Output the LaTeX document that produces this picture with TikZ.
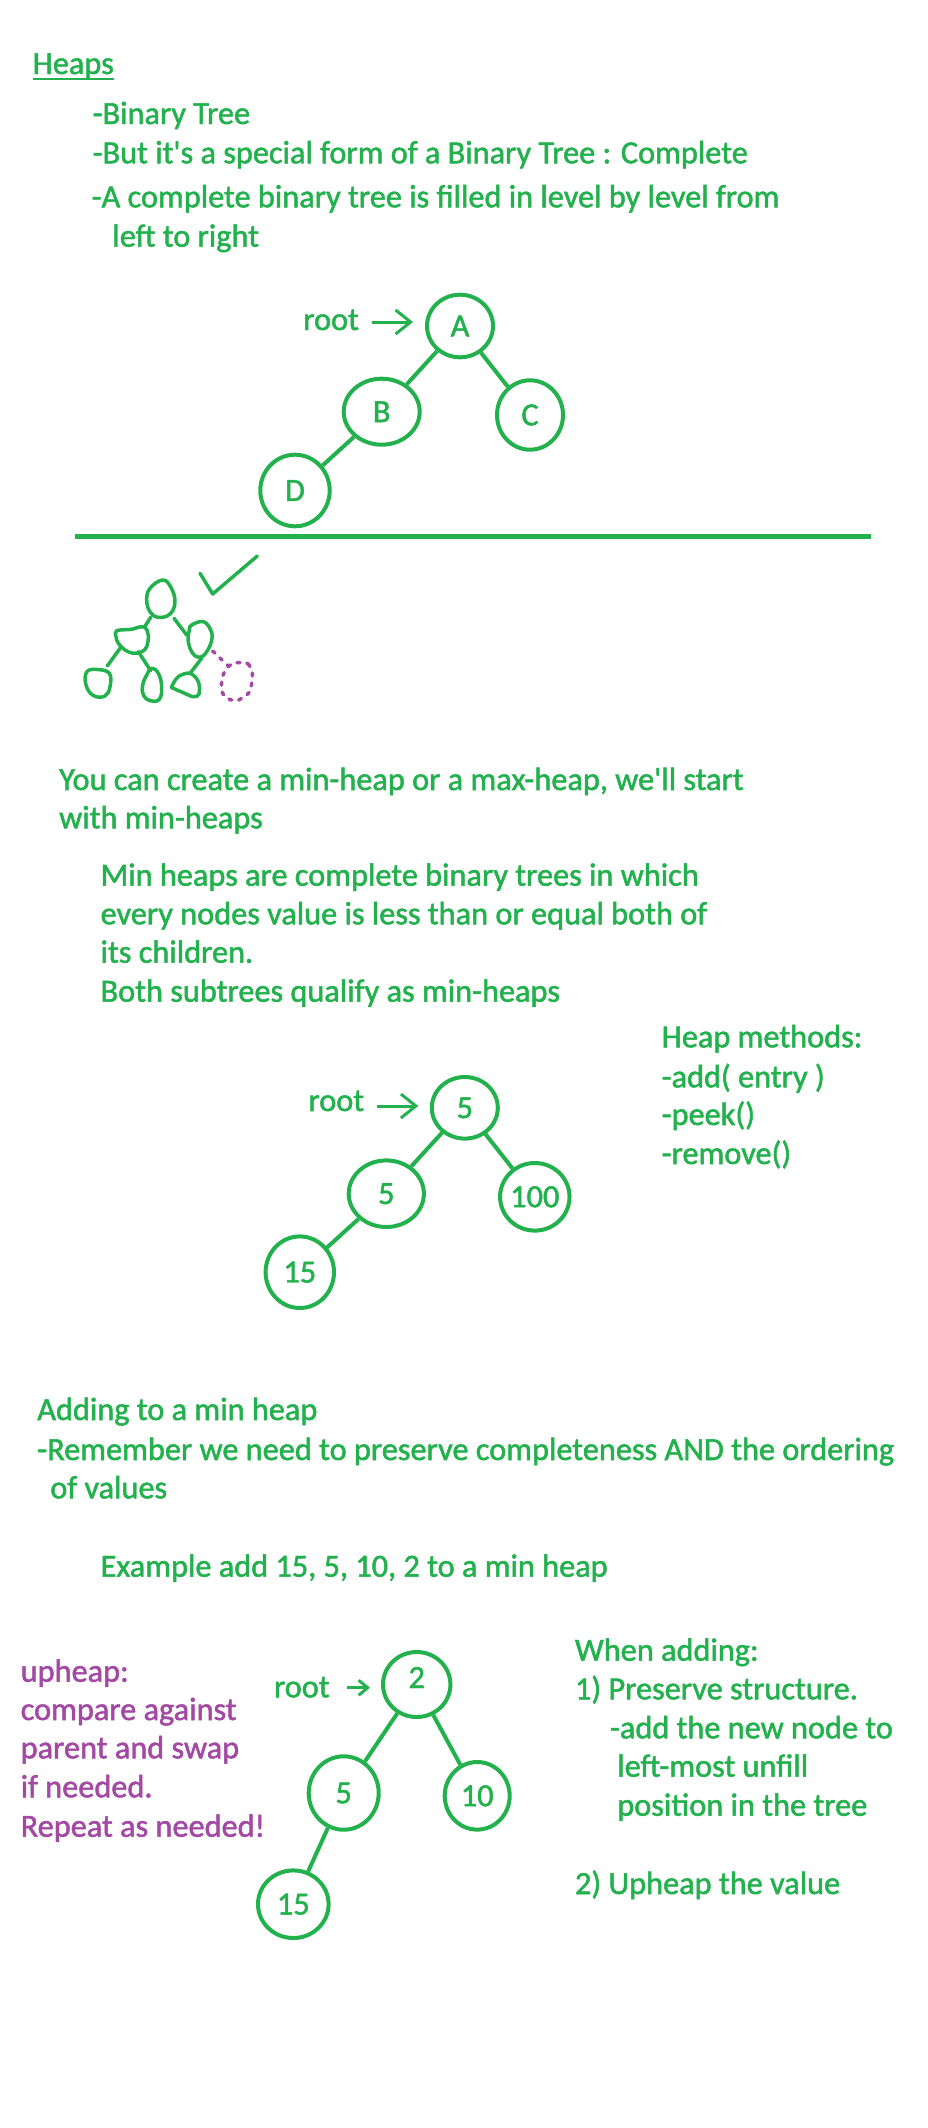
\documentclass[tikz,border=0pt]{standalone}
\usepackage{fontspec}
\setmainfont{Carlito}[Ligatures=TeXOff,FakeBold=1.5]
\usetikzlibrary{arrows.meta,shapes.geometric}
\definecolor{pg}{HTML}{22B14C}
\definecolor{pp}{HTML}{A349A4}
\newcommand{\txtsize}{\fontsize{32.3}{38}\selectfont}
\begin{document}
\begin{tikzpicture}[x=1pt,y=-1pt,
  txt/.style={anchor=base west, inner sep=0pt, outer sep=0pt, text=pg, font=\txtsize},
  ptxt/.style={txt, text=pp},
  hn/.style={draw=pg, line width=4pt, ellipse, inner sep=0pt, text=pg, font=\txtsize},
  link/.style={draw=pg, line width=4pt},
  rootarrow/.style={draw=pg, line width=3pt, -{Straight Barb[length=15pt,width=24pt]}},
  smallarrow/.style={draw=pg, line width=3pt, -{Straight Barb[length=9pt,width=15pt]}},
  sketch/.style={draw=pg, line width=3.5pt, line cap=round, line join=round},
  psketch/.style={draw=pp, line width=3.5pt, line cap=round, dash pattern=on 3pt off 7pt},
]
\path[fill=white] (0,0) rectangle (928,2128);
\useasboundingbox (0,0) rectangle (928,2128);

% ---- header text
\node[txt] (heaps) at (32.7,74) {Heaps};
\draw[draw=pg, line width=2pt] ([yshift=-5pt]heaps.base west) -- ([yshift=-5pt]heaps.base east);
\node[txt] (l1) at (92.7,124) {-Binary Tree};
\node[txt] (l2) at (92.7,163.3) {-But it's a special form of a Binary Tree : Complete};
\node[txt] (l3) at (91.7,207.3) {-A complete binary tree is filled in level by level from};
\node[txt] (l4) at (112.4,246.7) {left to right};

% ---- tree 1
\node[txt] (root1) at (303.3,330) {root};
\coordinate (ra1s) at (372,322);
\coordinate (ra1e) at (413,322);
\draw[rootarrow] (ra1s) -- (ra1e);
\node[hn, minimum width=66pt, minimum height=62.6pt] (A) at (460,326) {A};
\node[hn, minimum width=76pt, minimum height=66pt] (B) at (381.7,411.7) {B};
\node[hn, minimum width=66pt, minimum height=69.4pt] (C) at (530,415) {C};
\node[hn, minimum width=69.4pt, minimum height=71.6pt] (D) at (295,490.5) {D};
\draw[link] (A) -- (B);
\draw[link] (A) -- (C);
\draw[link] (B) -- (D);

% ---- separator
\coordinate (hl1) at (74.6,536);
\coordinate (hl2) at (871,536);
\draw[draw=pg, line width=5pt] (hl1) -- (hl2);

% ---- sketch
\draw[sketch] plot[smooth cycle, tension=0.7] coordinates {(162.5,580) (170.7,587) (175,601.7) (170,614) (158.3,617.3) (150,611.7) (146.7,600) (150,588.3)};
\draw[sketch] (200,573.3) -- (212.7,594) -- (257.3,556);
\draw[sketch] (150.7,617.3) -- (144.3,627.3);
\draw[sketch] plot[smooth cycle, tension=0.6] coordinates {(116.7,630.7) (131.7,629.3) (138.3,627.3) (145,627.3) (148.3,635) (146.7,646.7) (141.7,651.7) (133.3,653.3) (125,650) (118.3,643.3) (116,636.7)};
\draw[sketch] (174,618.3) -- (186.7,635);
\draw[sketch] plot[smooth cycle, tension=0.7] coordinates {(191.7,625) (203.3,621.7) (210.7,630) (211.7,640) (206.7,651.7) (200,657.3) (192.7,653.3) (188.3,641.7) (189.3,630)};
\draw[sketch] (120,648.3) -- (107.3,666);
\draw[sketch] plot[smooth cycle, tension=0.7] coordinates {(96.7,669.5) (109.3,673.3) (110,686.7) (105,696) (93.3,695.5) (86,685) (86.7,672)};
\draw[sketch] (138.3,651.7) -- (150.7,670.7);
\draw[sketch] plot[smooth cycle, tension=0.7] coordinates {(151.7,668.3) (158.3,673.3) (161.7,686.7) (159.3,699.3) (150,700.7) (143.3,695) (142.7,685) (146.7,675)};
\draw[sketch] (201.7,658.3) -- (190,673.3);
\draw[sketch] plot[smooth cycle, tension=0.6] coordinates {(171.7,686.7) (178.3,676.7) (190,673.3) (198.3,681.7) (199,694) (193.3,696.7) (183.3,692.7) (173.3,688.3)};
\draw[psketch] (212.7,651) -- (228.3,666);
\draw[psketch] plot[smooth cycle, tension=0.7] coordinates {(238.3,662.7) (248.3,664) (252.3,673.3) (251.7,683.3) (249,692.7) (241.7,698.3) (235,700.7) (226,697.3) (221.7,690) (222.3,678.3) (225.7,670) (231.7,664)};

% ---- min heap text
\node[txt] (m1) at (59.2,790) {You can create a min-heap or a max-heap, we'll start};
\node[txt] (m2) at (59.2,828.3) {with min-heaps};
\node[txt] (m3) at (100.6,885.7) {Min heaps are complete binary trees in which};
\node[txt] (m4) at (100.6,924.3) {every nodes value is less than or equal both of};
\node[txt] (m5) at (100.6,962.7) {its children.};
\node[txt] (m6) at (100.6,1001.7) {Both subtrees qualify as min-heaps};

\node[txt] (hm1) at (661.7,1047.3) {Heap methods:};
\node[txt] (hm2) at (661.7,1087.3) {-add( entry )};
\node[txt] (hm3) at (661.7,1125) {-peek()};
\node[txt] (hm4) at (661.7,1164) {-remove()};

% ---- tree 2
\node[txt] (root2) at (308.5,1111) {root};
\coordinate (ra2s) at (376.6,1106);
\coordinate (ra2e) at (418.3,1106);
\draw[rootarrow] (ra2s) -- (ra2e);
\node[hn, minimum width=66pt, minimum height=61.6pt] (r5) at (464.8,1107.8) {5};
\node[hn, minimum width=75.2pt, minimum height=66.6pt] (l5) at (386.3,1193.7) {5};
\node[hn, minimum width=66pt, minimum height=67.6pt] (n100) at (534.8,1196.8) {100};
\node[hn, minimum width=68.4pt, minimum height=71.6pt] (n15) at (299.8,1272.2) {15};
\draw[link] (r5) -- (l5);
\draw[link] (r5) -- (n100);
\draw[link] (l5) -- (n15);

% ---- adding text
\node[txt] (a1) at (37.3,1420) {Adding to a min heap};
\node[txt] (a2) at (37.3,1460) {-Remember we need to preserve completeness AND the ordering};
\node[txt] (a3) at (50.3,1498.3) {of values};
\node[txt] (a4) at (100.6,1576.7) {Example add 15, 5, 10, 2 to a min heap};

% ---- upheap note
\node[ptxt] (u1) at (20.7,1681.7) {upheap:};
\node[ptxt] (u2) at (20.7,1720) {compare against};
\node[ptxt] (u3) at (20.7,1758.3) {parent and swap};
\node[ptxt] (u4) at (20.7,1797.3) {if needed.};
\node[ptxt] (u5) at (20.7,1836.7) {Repeat as needed!};

% ---- tree 3
\node[txt] (root3) at (274,1697.3) {root};
\coordinate (ra3s) at (346.7,1687.7);
\coordinate (ra3e) at (370,1687.7);
\draw[smallarrow] (ra3s) -- (ra3e);
\node[hn, minimum width=67.4pt, minimum height=65pt, label={[text=pg, font=\txtsize, yshift=7pt]center:2}] (t2) at (416.7,1684.5) {};
\node[hn, minimum width=70pt, minimum height=73.4pt] (t5) at (343.7,1793) {5};
\node[hn, minimum width=65pt, minimum height=67.6pt] (t10) at (477.2,1795.8) {10};
\node[hn, minimum width=70.6pt, minimum height=67.6pt] (t15) at (293.3,1904.2) {15};
\draw[link] (t2) -- (t5);
\draw[link] (t2) -- (t10);
\draw[link] (t5) -- (t15);

% ---- when adding
\node[txt] (w1) at (575,1660.7) {When adding:};
\node[txt] (w2) at (575,1699.3) {1) Preserve structure.};
\node[txt] (w3) at (610,1738.3) {-add the new node to};
\node[txt] (w4) at (617.3,1776.7) {left-most unfill};
\node[txt] (w5) at (617.3,1815.7) {position in the tree};
\node[txt] (w6) at (575,1894) {2) Upheap the value};
\end{tikzpicture}
\end{document}
